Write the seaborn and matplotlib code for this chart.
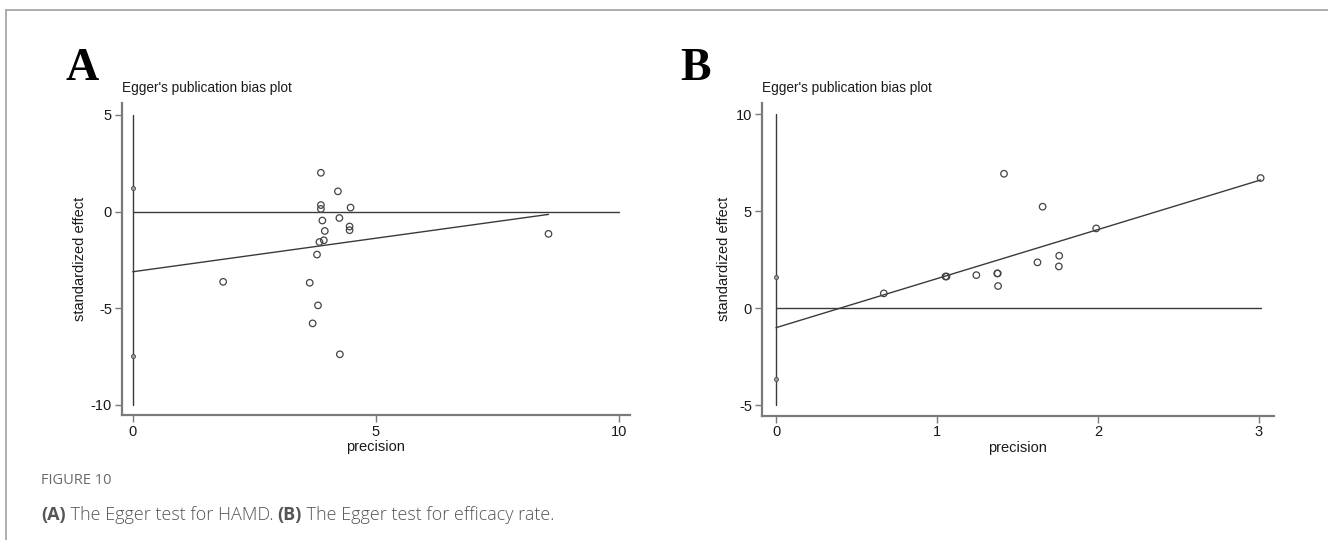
import matplotlib
matplotlib.use("Agg")
import matplotlib.pyplot as plt
import seaborn as sns
import pandas as pd

# ---------------- data ----------------
# Panel A: HAMD
a_precision = [3.87, 4.22, 3.87, 3.87, 4.48, 3.90, 4.25, 4.46, 4.46, 3.95,
               3.84, 3.93, 3.79, 1.86, 3.64, 3.81, 3.70, 4.26, 8.55]
a_effect = [2.01, 1.05, 0.34, 0.14, 0.21, -0.46, -0.33, -0.77, -0.96, -1.00,
            -1.57, -1.48, -2.22, -3.63, -3.68, -4.85, -5.78, -7.38, -1.15]
a_ci = [1.24, -7.45]            # CI of intercept (small markers at x=0)
a_intercept, a_slope = -3.11, 0.347
a_xticks = [0, 5, 10]
a_yticks = [-10, -5, 0, 5]
a_hline_end = 10

# Panel B: efficacy rate
b_precision = [0.67, 1.053, 1.06, 1.245, 1.375, 1.378, 1.38, 1.417, 1.625,
               1.657, 1.76, 1.758, 1.99, 3.012]
b_effect = [0.76, 1.63, 1.63, 1.70, 1.79, 1.79, 1.14, 6.93, 2.36,
            5.23, 2.70, 2.15, 4.11, 6.71]
b_ci = [1.60, -3.65]
b_intercept, b_slope = -1.01, 2.53
b_xticks = [0, 1, 2, 3]
b_yticks = [-5, 0, 5, 10]
b_hline_end = 3.012

title = "Egger's publication bias plot"
xlabel = "precision"
ylabel = "standardized effect"

# ---------------- style ----------------
sns.set_style("ticks")
plt.rcParams['font.family'] = ['Liberation Sans', 'DejaVu Sans']
plt.rcParams['axes.unicode_minus'] = False

W, H = 1328, 540
fig = plt.figure(figsize=(W / 100, H / 100), dpi=100)
fig.patch.set_facecolor("white")

SPINE = "#7a7a7a"
LINE = "#3a3a3a"
MARK = "#444444"


def panel(rect, xs, ys, ci, b0, b1, xticks, yticks, xlim, ylim, hend, letter, letter_x):
    ax = fig.add_axes(rect)
    df = pd.DataFrame({"precision": xs, "effect": ys})
    # zero lines
    sns.lineplot(x=[0, 0], y=[min(yticks), max(yticks)], ax=ax, color=LINE, lw=1.0,
                 estimator=None, sort=False, orient="y")
    sns.lineplot(x=[0, hend], y=[0, 0], ax=ax, color=LINE, lw=1.0,
                 estimator=None, sort=False)
    # regression line
    xr = [0, max(xs)]
    yr = [b0 + b1 * v for v in xr]
    sns.lineplot(x=xr, y=yr, ax=ax, color=LINE, lw=1.0, estimator=None, sort=False)
    # points
    sns.scatterplot(data=df, x="precision", y="effect", ax=ax, s=22,
                    facecolor="none", edgecolor=MARK, linewidth=0.9, zorder=5)
    sns.scatterplot(x=[0] * len(ci), y=ci, ax=ax, s=9, marker="o",
                    color="#9a9a9a", edgecolor="#555555", linewidth=0.6, zorder=6)
    ax.set_xlim(*xlim)
    ax.set_ylim(*ylim)
    ax.set_xticks(xticks)
    ax.set_yticks(yticks)
    for s in ["top", "right"]:
        ax.spines[s].set_visible(False)
    for s in ["left", "bottom"]:
        ax.spines[s].set_color(SPINE)
        ax.spines[s].set_linewidth(1.6)
    ax.tick_params(axis="both", direction="out", length=5, width=1.0,
                   color=SPINE, labelsize=10.5, labelcolor="#1a1a1a", pad=2)
    ax.set_xlabel(xlabel, fontsize=10.5, color="#1a1a1a", labelpad=1)
    ax.set_ylabel(ylabel, fontsize=10.5, color="#1a1a1a", labelpad=3)
    ax.grid(False)
    fig.text(rect[0], 1 - 88 / H, title, fontsize=9.8, color="#1a1a1a",
             ha="left", va="center")
    fig.text(letter_x / W, 1 - 80 / H, letter, fontsize=33, fontweight="bold",
             family="Liberation Serif", ha="left", va="baseline", color="black")
    return ax


panel([121.7 / W, 1 - 415 / H, (630 - 121.7) / W, (415 - 103) / H],
      a_precision, a_effect, a_ci, a_intercept, a_slope, a_xticks, a_yticks,
      (-0.226, 10.226), (-10.52, 5.62), a_hline_end, "A", 66)
panel([761.7 / W, 1 - 415.7 / H, (1274 - 761.7) / W, (415.7 - 103) / H],
      b_precision, b_effect, b_ci, b_intercept, b_slope, b_xticks, b_yticks,
      (-0.089, 3.095), (-5.55, 10.58), b_hline_end, "B", 680)

# frame lines
fig.add_artist(plt.Line2D([6 / W, 6 / W], [0, 1 - 9.5 / H], transform=fig.transFigure,
                          color="#a0a0a0", lw=1.2))
fig.add_artist(plt.Line2D([6 / W, 1], [1 - 9.5 / H, 1 - 9.5 / H], transform=fig.transFigure,
                          color="#a0a0a0", lw=1.2))

# caption
fig.text(41 / W, 1 - 481 / H, "FIGURE 10", fontsize=10.5, color="#6a6a6a",
         family="Open Sans", ha="left", va="center")
cap_y = 1 - 515 / H
CAP_FS = 13
t1 = fig.text(41 / W, cap_y, "(A)", fontsize=CAP_FS, color="#555555", family="Open Sans",
              fontweight="bold", ha="left", va="center")
fig.canvas.draw()
r = fig.canvas.get_renderer()


def next_x(t):
    bb = t.get_window_extent(renderer=r)
    return bb.x1 / W


t2 = fig.text(next_x(t1), cap_y, " The Egger test for HAMD. ", fontsize=CAP_FS, color="#555555",
              family="Open Sans", fontweight="light", ha="left", va="center")
fig.canvas.draw()
t3 = fig.text(next_x(t2), cap_y, "(B)", fontsize=CAP_FS, color="#555555", family="Open Sans",
              fontweight="bold", ha="left", va="center")
fig.canvas.draw()
t4 = fig.text(next_x(t3), cap_y, " The Egger test for efficacy rate.", fontsize=CAP_FS,
              color="#555555", family="Open Sans", fontweight="light", ha="left", va="center")

fig.savefig("out.png", dpi=100, facecolor="white")
